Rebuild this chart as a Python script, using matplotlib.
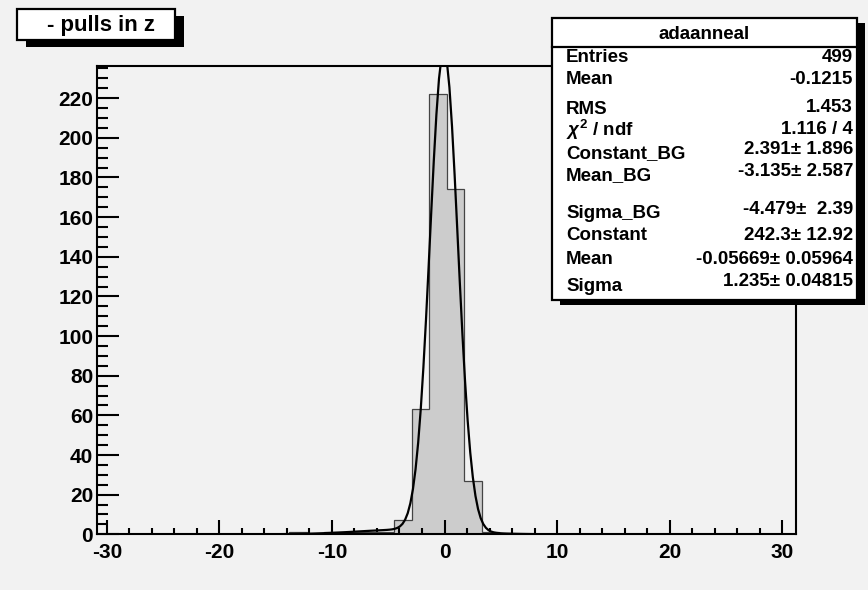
import numpy as np
import matplotlib
matplotlib.use("Agg")
import matplotlib.pyplot as plt
from matplotlib.patches import Rectangle
from matplotlib.ticker import MultipleLocator

plt.rcParams['font.family'] = ['Liberation Sans', 'DejaVu Sans']
plt.rcParams['font.weight'] = 'bold'
plt.rcParams['axes.unicode_minus'] = False
plt.rcParams['mathtext.fontset'] = 'custom'
plt.rcParams['mathtext.it'] = 'Liberation Sans:italic:bold'
plt.rcParams['mathtext.rm'] = 'Liberation Sans:bold'

# histogram of pulls: 40 bins
x_lo = -30.84
x_hi = 31.22
n_bins = 40
counts = [0, 0, 0, 0, 0, 0, 0, 0, 0, 0,
          0, 1, 0, 1, 1, 1, 1, 7, 63, 222,
          174, 27, 1, 0, 0, 0, 0, 0, 0, 0,
          0, 0, 0, 0, 0, 0, 0, 0, 0, 0]
y_max = 236.4

# fit result (gaus background + gaus signal)
fit_bg = [2.391, -3.135, -4.479]     # constant, mean, sigma
fit_sig = [242.3, -0.05669, 1.235]
fit_range = [-14.6, 8.3]

stat_names = ["Entries", "Mean", "RMS", r"$\chi^{2}$ / ndf", "Constant_BG", "Mean_BG",
              "Sigma_BG", "Constant", "Mean", "Sigma"]
stat_values = ["499", "-0.1215", "1.453", "1.116 / 4", "2.391\u00b1 1.896", "-3.135\u00b1 2.587",
               "-4.479\u00b1  2.39", "242.3\u00b1 12.92", "-0.05669\u00b1 0.05964", "1.235\u00b1 0.04815"]
# vertical centres of the stat rows (pixels from top)
name_rows = [55, 78, 107, 129, 152, 174, 212, 233, 258, 284]
value_rows = [55, 78, 105, 127, 148, 170, 208, 233, 257, 280]

W, H = 868, 590
BG = '#f2f2f2'


def px(x, y):
    # pixel from top-left -> figure fraction
    return x / W, 1 - y / H


def box(fig, x0, y0, x1, y1, shadow, lw=1.6):
    sx, sy = shadow
    a = px(x0 + sx, y1 + sy)
    fig.add_artist(Rectangle(a, (x1 - x0) / W, (y1 - y0) / H, transform=fig.transFigure,
                             facecolor='black', edgecolor='black', lw=0, zorder=5))
    b = px(x0, y1)
    fig.add_artist(Rectangle(b, (x1 - x0) / W, (y1 - y0) / H, transform=fig.transFigure,
                             facecolor='white', edgecolor='black', lw=lw, zorder=6))


fig = plt.figure(figsize=(W / 100, H / 100), dpi=100, facecolor=BG)
ax = fig.add_axes([97.3 / W, 1 - 534.3 / H, (796 - 97.3) / W, (534.3 - 65.7) / H])
ax.set_facecolor(BG)

edges = np.linspace(x_lo, x_hi, n_bins + 1)
ax.stairs(counts, edges, fill=True, color='#cccccc', zorder=1)
ax.stairs(counts, edges, color='#444444', lw=0.9, zorder=2)

xf = np.linspace(fit_range[0], fit_range[1], 100)
yf = (fit_bg[0] * np.exp(-0.5 * ((xf - fit_bg[1]) / fit_bg[2]) ** 2)
      + fit_sig[0] * np.exp(-0.5 * ((xf - fit_sig[1]) / fit_sig[2]) ** 2))
ax.plot(xf, yf, color='black', lw=1.6, zorder=3)

ax.set_xlim(x_lo, x_hi)
ax.set_ylim(0, y_max)
ax.xaxis.set_major_locator(MultipleLocator(10))
ax.xaxis.set_minor_locator(MultipleLocator(2))
ax.yaxis.set_major_locator(MultipleLocator(20))
ax.yaxis.set_minor_locator(MultipleLocator(5))
ax.tick_params(axis='x', which='major', direction='in', length=10, width=1.5, pad=6, labelsize=15)
ax.tick_params(axis='x', which='minor', direction='in', length=4.5, width=1.5)
ax.tick_params(axis='y', which='major', direction='in', length=16, width=1.5, pad=3, labelsize=15)
ax.tick_params(axis='y', which='minor', direction='in', length=8, width=1.5)
for lab in ax.get_xticklabels() + ax.get_yticklabels():
    lab.set_fontweight('bold')
for s in ax.spines.values():
    s.set_linewidth(1.5)

# title box
box(fig, 17, 9, 175, 40, (9, 7))
fig.text(*px(101, 31), "- pulls in z", ha='center', va='baseline', fontsize=16,
         fontweight='bold', zorder=7)

# stats box
box(fig, 552, 18, 857, 300, (8, 5))
fig.add_artist(plt.Line2D([552 / W, 857 / W], [1 - 46.5 / H, 1 - 46.5 / H],
                          transform=fig.transFigure, color='black', lw=1.6, zorder=7))
fig.text(*px(704, 39), "adaanneal", ha='center', va='baseline', fontsize=13.5,
         fontweight='bold', zorder=7)
for name, val, yn, yv in zip(stat_names, stat_values, name_rows, value_rows):
    fig.text(*px(566, yn + 6.5), name, ha='left', va='baseline', fontsize=13.5,
             fontweight='bold', zorder=7)
    fig.text(*px(853, yv + 6.5), val, ha='right', va='baseline', fontsize=13.5,
             fontweight='bold', zorder=7)

fig.savefig("out.png", dpi=100, facecolor=BG)
